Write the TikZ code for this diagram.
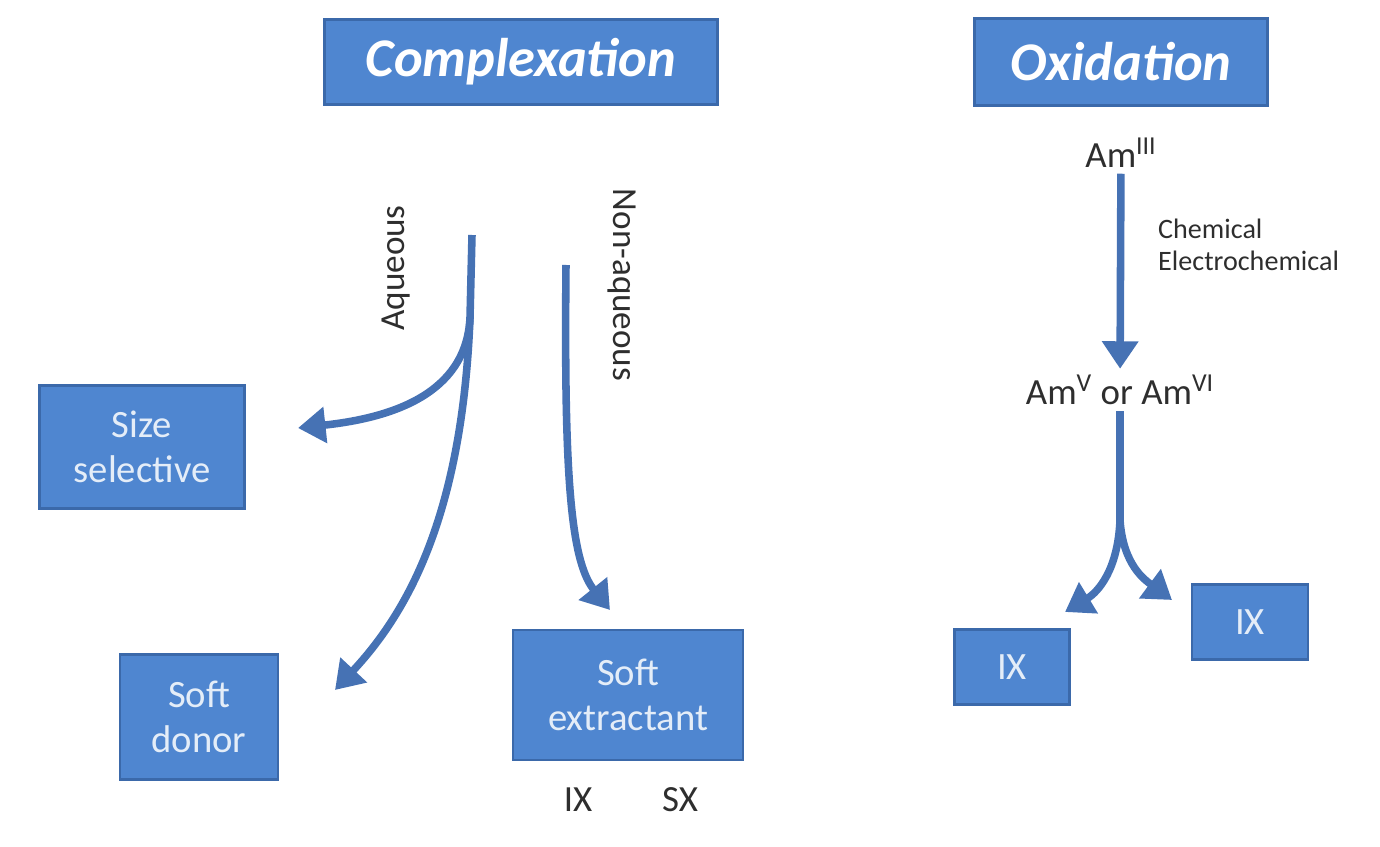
\documentclass[tikz,border=0pt]{standalone}
\usepackage{fontspec}
\setmainfont{Carlito}
\usetikzlibrary{arrows.meta, positioning}
\definecolor{cblue}{HTML}{4F86D0}
\definecolor{cedge}{HTML}{3B69AA}
\definecolor{carrow}{HTML}{4672B4}
\definecolor{ctext}{HTML}{2E2E2E}
\tikzset{
  head/.style={rectangle, draw=cedge, line width=1.2pt, fill=cblue, text=white,
               font=\fontsize{31}{36}\selectfont\bfseries\itshape, inner sep=0pt},
  box/.style={rectangle, draw=cedge, line width=1.2pt, fill=cblue, text=white!85!cblue,
              align=center, font=\fontsize{22}{26}\selectfont, inner sep=0pt},
  flow/.style={-{Triangle[length=0.55cm, width=0.7cm]}, draw=carrow, line width=4.3pt},
  trunk/.style={draw=carrow, line width=4.3pt},
  note/.style={text=ctext, font=\fontsize{21}{24}\selectfont},
  side/.style={text=ctext, font=\fontsize{20}{24}\selectfont},
  small/.style={text=ctext, align=left, font=\fontsize{16}{18}\selectfont}
}

\begin{document}
\begin{tikzpicture}[x=0.02cm, y=-0.02cm]
  \useasboundingbox (0,0) rectangle (1380,847);

  % headings
  \node[head, minimum width=7.86cm, minimum height=1.7cm] (cplx) at (521,62) {Complexation};
  \node[head, minimum width=5.86cm, minimum height=1.74cm] (oxid) at (1121,62) {Oxidation};

  % complexation side
  \node[box, minimum width=4.1cm, minimum height=2.46cm] (size) at (142,447) {Size\\selective};
  \node[box, minimum width=3.16cm, minimum height=2.5cm] (donor) at (199,717) {Soft\\donor};
  \node[box, minimum width=4.6cm, minimum height=2.6cm] (soft) at (628,695) {Soft\\extractant};
  \node[note] (ix) at (578,800) {IX};
  \node[note] (sx) at (680,800) {SX};

  \coordinate (aqtop) at (472,235);
  \coordinate (aqmid) at (470,318);
  \coordinate (aqend1) at (298,428);
  \coordinate (aqend2) at (335,690);
  \draw[trunk] (aqtop) -- (aqmid);
  \draw[flow] (aqmid) .. controls (466,395) and (390,418) .. (aqend1);
  \draw[flow] (aqmid) .. controls (462,520) and (405,615) .. (aqend2);
  \node[side, rotate=90] (aq) at (396,268) {Aqueous};

  \coordinate (natop) at (566,265);
  \coordinate (naend) at (610,610);
  \draw[flow] (natop) .. controls (564,470) and (570,560) .. (naend);
  \node[side, rotate=-90] (naq) at (622,285) {Non-aqueous};

  % oxidation side
  \node[note, below=0.5cm of oxid] (am3) {Am\textsuperscript{III}};
  \node[note] (am56) at (1120,390) {Am\textsuperscript{V} or Am\textsuperscript{VI}};
  \draw[flow] (am3) -- (am56);
  \node[small, anchor=west] (route) at (1152,245) {Chemical\\Electrochemical};

  \node[box, minimum width=2.3cm, minimum height=1.5cm] (ixl) at (1012,667) {IX};
  \node[box, minimum width=2.32cm, minimum height=1.5cm] (ixr) at (1250,622) {IX};

  \coordinate (fork) at (1120,520);
  \coordinate (forkl) at (1065,612);
  \coordinate (forkr) at (1172,600);
  \draw[trunk] (am56) -- (fork);
  \draw[flow] (fork) .. controls (1118,570) and (1098,592) .. (forkl);
  \draw[flow] (fork) .. controls (1123,565) and (1145,580) .. (forkr);
\end{tikzpicture}
\end{document}
